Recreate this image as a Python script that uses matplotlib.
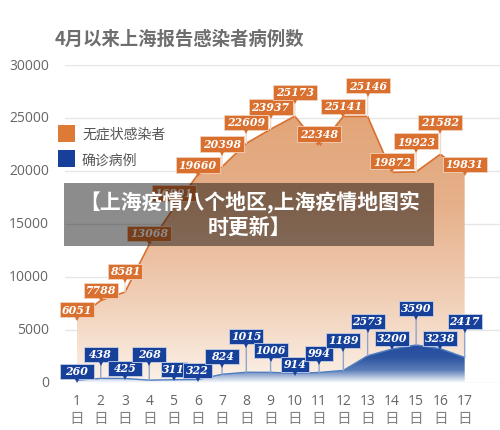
import numpy as np
import matplotlib
matplotlib.use('Agg')
import matplotlib.pyplot as plt
from matplotlib.patches import Rectangle
from matplotlib.colors import LinearSegmentedColormap

plt.rcParams['font.family'] = ['Noto Sans CJK SC', 'DejaVu Sans']

W, H = 500, 431
X0, DX = 76.5, 24.26
Y0, Y30K = 384, 66

days = list(range(1, 18))
asymptomatic = [6051, 7788, 8581, 13068, 16500, 19660, 20398, 22609, 23937,
                25173, 22348, 25141, 25146, 19872, 19923, 21582, 19831]
confirmed = [260, 438, 425, 268, 311, 322, 824, 1015, 1006,
             914, 994, 1189, 2573, 3200, 3590, 3238, 2417]
asym_labels = ['6051', '7788', '8581', '13068', '16801', '19660', '20398', '22609', '23937',
               '25173', '22348', '25141', '25146', '19872', '19923', '21582', '19831']
# label centres and widths in pixels of the picture
asym_box_y = [310, 291, 272, 234, 194, 166, 145, 123, 108, 93, 135, 107, 86, 162, 142, 123, 165]
conf_box_y = [372, 355, 369, 355, 370, 371, 357, 337, 351, 365, 354, 341, 322, 339, 309, 339, 322]
asym_box_w = [34, 34, 34, 44, 44, 44, 44, 44, 44, 44, 44, 44, 44, 44, 44, 44, 44]
conf_box_w = [34, 34, 34, 34, 26, 29, 34, 34, 34, 28, 28, 34, 34, 34, 34, 34, 34]
yticks = [0, 5000, 10000, 15000, 20000, 25000, 30000]

ORANGE = '#d9702f'
BLUE = '#17409a'
GREY = '#666666'

fig = plt.figure(figsize=(W / 100, H / 100), dpi=100)
ax = fig.add_axes([65 / W, 1 - Y0 / H, 435 / W, (Y0 - Y30K) / H])
for s in ax.spines.values():
    s.set_visible(False)
ax.set_xticks([])
ax.set_yticks([])

for t in yticks:
    ax.axhline(t, color='#e6e6e6', lw=1, zorder=1)
    fig.text(49 / W, 1 - (Y0 - t * (Y0 - Y30K) / 30000) / H, str(t), ha='right', va='center',
             fontsize=10, color=GREY, family='Open Sans')


def gradient_area(values, colors, top, zorder):
    cmap = LinearSegmentedColormap.from_list('g', colors)
    grad = np.linspace(1, 0, 256).reshape(-1, 1)
    im = ax.imshow(grad, cmap=cmap, extent=[days[0], days[-1], 0, top], aspect='auto',
                   zorder=zorder, interpolation='bilinear')
    poly = ax.fill_between(days, 0, values, color='none')
    im.set_clip_path(poly.get_paths()[0], transform=ax.transData)


gradient_area(asymptomatic, ['#fcf1e8', '#f0cdb4', '#e6b08a', '#e2a578'], 25200, 2)
ax.plot(days, asymptomatic, color=ORANGE, lw=1.2, zorder=3)
gradient_area(confirmed, ['#ffffff', '#5a7cb8', '#2c54a0', '#254e9e'], 3600, 4)
ax.plot(days, confirmed, color='#4f7fc0', lw=1, zorder=5)
ax.set_xlim(1 - (X0 - 65) / DX, 1 + (500 - X0) / DX)
ax.set_ylim(0, 30000)


def value_labels(values, labels, box_y, box_w, color, edge, stem):
    for d, v, lab, by, bw in zip(days, values, labels, box_y, box_w):
        bx = X0 + (d - 1) * DX
        # stem from the point up to the box
        ax.annotate('', xy=(d, v), xytext=(bx, H - by), textcoords='figure pixels',
                    arrowprops=dict(arrowstyle='-', color=stem, lw=1, shrinkA=0, shrinkB=0), zorder=6)
        box = Rectangle(((bx - bw / 2) / W, 1 - (by + 7.5) / H), bw / W, 15 / H,
                        transform=fig.transFigure, fc=color, ec=edge, lw=0.6, zorder=7)
        ax.add_artist(box)
        box.set_clip_on(False)
        ax.text(bx / W, 1 - by / H, lab, transform=fig.transFigure, ha='center', va='center',
                fontsize=7.8, color='white', family='DejaVu Serif', weight='bold', style='italic',
                zorder=8)
        ax.plot([bx], [H - by - 9], marker='v', ms=4, color=color, mew=0, zorder=7,
                transform=None, clip_on=False)


value_labels(asymptomatic, asym_labels, asym_box_y, asym_box_w, ORANGE, '#f2d2bc', '#f0d9c8')
value_labels(confirmed, [str(v) for v in confirmed], conf_box_y, conf_box_w, BLUE, '#c5d0e6', '#8fa6cc')

# title and legend
fig.text(55 / W, 1 - 39 / H, '4月以来上海报告感染者病例数', ha='left', va='center',
         fontsize=13.2, color='#6e6e6e', weight='bold')
fig.patches.append(Rectangle((58 / W, 1 - 143 / H), 17 / W, 17 / H, transform=fig.transFigure,
                             fc='#dd7a35', ec='none', figure=fig))
fig.patches.append(Rectangle((58 / W, 1 - 168 / H), 17 / W, 17 / H, transform=fig.transFigure,
                             fc=BLUE, ec='none', figure=fig))
fig.text(82 / W, 1 - 134 / H, '无症状感染者', ha='left', va='center', fontsize=10, color='#555555')
fig.text(82 / W, 1 - 161 / H, '确诊病例', ha='left', va='center', fontsize=10, color='#555555')

# day labels under the axis
for d in days:
    bx = X0 + (d - 1) * DX
    fig.text(bx / W, 1 - 402 / H, str(d), ha='center', va='center', fontsize=10, color=GREY, family='Open Sans')
    fig.text(bx / W, 1 - 419 / H, '日', ha='center', va='center', fontsize=10.5, color='#808080')

# banner over the chart
banner = Rectangle((64 / W, 1 - 247 / H), 370 / W, 63 / H, transform=fig.transFigure,
                   fc='black', alpha=0.45, ec='none', zorder=20)
ax.add_artist(banner)
banner.set_clip_on(False)
ax.text(249.5 / W, 1 - 202 / H, '【上海疫情八个地区,上海疫情地图实', transform=fig.transFigure,
        ha='center', va='center', fontsize=15, color='white', weight='bold', zorder=21)
ax.text(249.5 / W, 1 - 227 / H, '时更新】', transform=fig.transFigure,
        ha='center', va='center', fontsize=15, color='white', weight='bold', zorder=21)

fig.savefig('out.png', dpi=100)
